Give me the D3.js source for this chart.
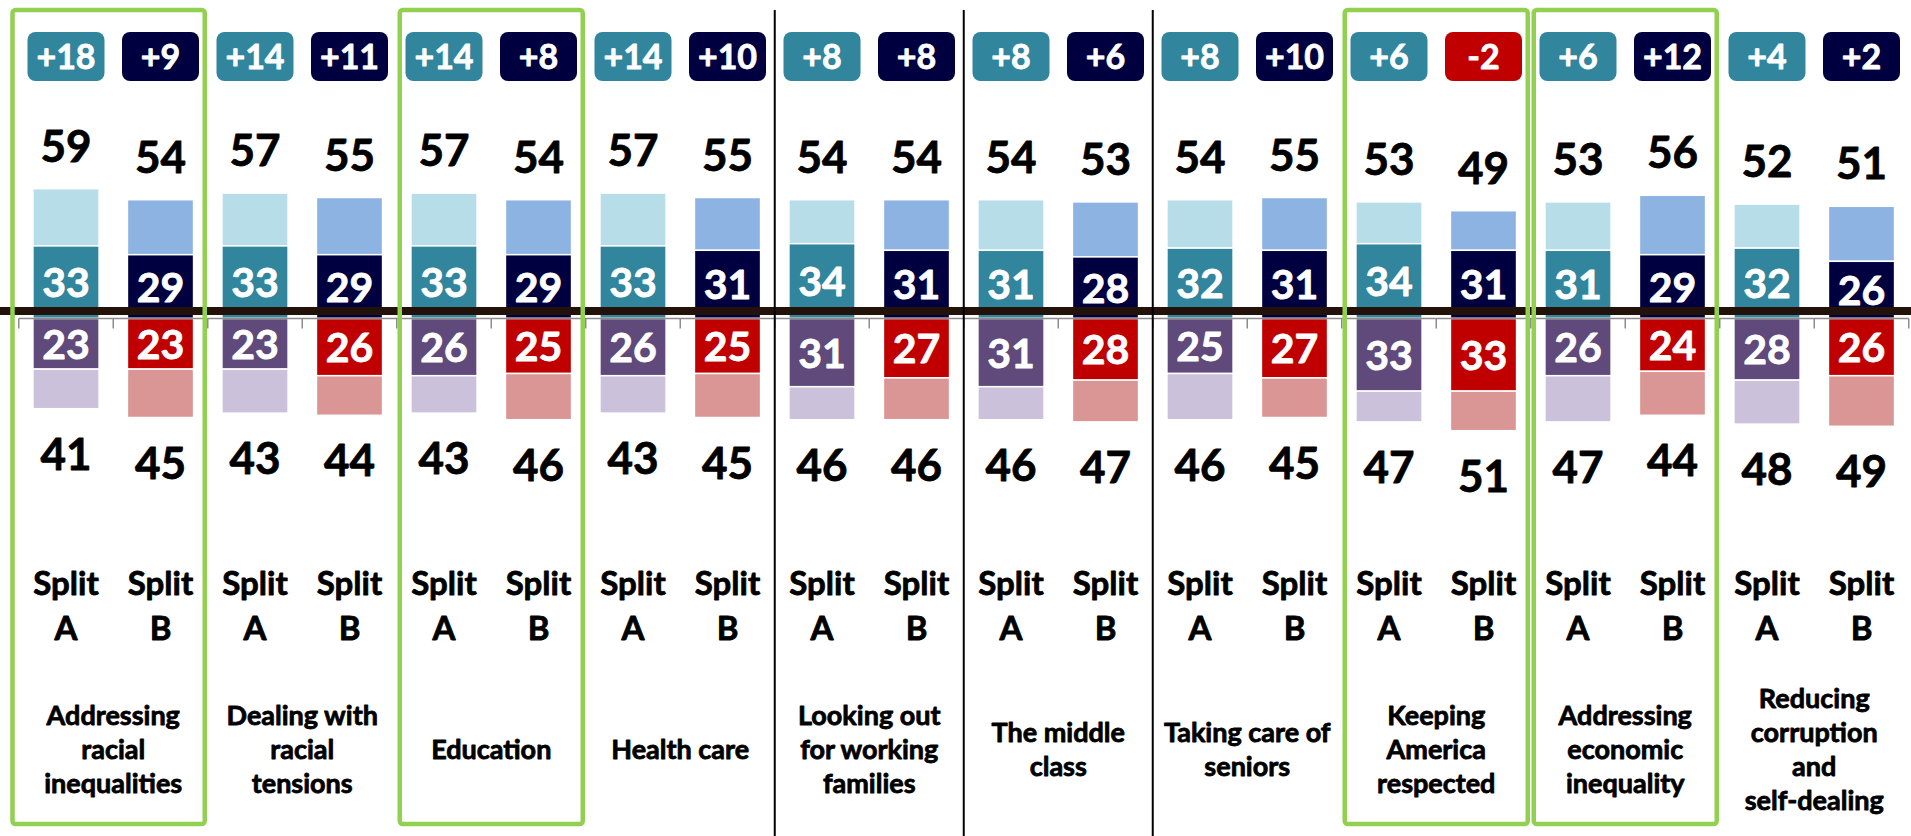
<!DOCTYPE html>
<html><head><meta charset="utf-8">
<script src="https://cdn.jsdelivr.net/npm/d3@7"></script>
<style>html,body{margin:0;padding:0;background:#fff;overflow:hidden}text{font-family:Lato,"Open Sans",sans-serif;font-weight:bold;paint-order:stroke}</style>
</head><body><svg id="chart" width="1911" height="836"></svg>
<script>
// ---- data ----
const categories = [
  ["Addressing","racial","inequalities"],
  ["Dealing with","racial","tensions"],
  ["Education"],
  ["Health care"],
  ["Looking out","for working","families"],
  ["The middle","class"],
  ["Taking care of","seniors"],
  ["Keeping","America","respected"],
  ["Addressing","economic","inequality"],
  ["Reducing","corruption","and","self-dealing"]
];
const splits = ["A","B"];
const aPosTotal = [59,57,57,57,54,54,54,53,53,52];
const aPosCore  = [33,33,33,33,34,31,32,34,31,32];
const aNegCore  = [23,23,26,26,31,31,25,33,26,28];
const aNegTotal = [41,43,43,43,46,46,46,47,47,48];
const bPosTotal = [54,55,54,55,54,53,55,49,56,51];
const bPosCore  = [29,29,29,31,31,28,31,31,29,26];
const bNegCore  = [23,26,25,25,27,28,27,33,24,26];
const bNegTotal = [45,44,46,45,46,47,45,51,44,49];
const netA = [18,14,14,14,8,8,8,6,6,4];
const netB = [9,11,8,10,8,6,10,-2,12,2];
const highlighted = [0,2,7,8];
const dividersAfter = [3,4,5];

// ---- colors ----
const C = {
  A:{posCore:"#31859c",posLight:"#b7dde8",negCore:"#604a7b",negLight:"#ccc1da",badge:"#31859c"},
  B:{posCore:"#000040",posLight:"#8db3e2",negCore:"#c00000",negLight:"#d99694",badge:"#000040"}
};

const rows = [];
categories.forEach((c,i)=>{
  rows.push({cat:i,split:splits[0],key:i+"-A",posT:aPosTotal[i],posC:aPosCore[i],negC:aNegCore[i],negT:aNegTotal[i],net:netA[i]});
  rows.push({cat:i,split:splits[1],key:i+"-B",posT:bPosTotal[i],posC:bPosCore[i],negC:bNegCore[i],negT:bNegTotal[i],net:netB[i]});
});

const svg = d3.select("#chart");
const x = d3.scaleBand().domain(rows.map(d=>d.key)).range([18.75,1908.75]).paddingInner(0.3).paddingOuter(0.15);
const y = d3.scaleLinear().domain([-60,60]).range([318.5+132,318.5-132]);
const step = x.step(), bw = x.bandwidth();
const cx = k => x(k)+bw/2;
const slotL = k => x(k)-step*0.15;
const slotR = k => x(k)+bw+step*0.15;

function txt(sel, size, color){
  return sel.attr("text-anchor","middle").attr("font-size",size).attr("fill",color)
    .attr("stroke",color).attr("stroke-width",0.8).attr("stroke-linejoin","round");
}

// bars
const g = svg.append("g");
const segs = [];
rows.forEach(d=>{
  const col = C[d.split];
  segs.push({d, y0:d.posC, y1:d.posT, fill:col.posLight});
  segs.push({d, y0:0, y1:d.posC, fill:col.posCore});
  segs.push({d, y0:-d.negC, y1:0, fill:col.negCore});
  segs.push({d, y0:-d.negT, y1:-d.negC, fill:col.negLight});
});
g.selectAll("rect.seg").data(segs).join("rect").attr("class","seg")
  .attr("x",s=>x(s.d.key)).attr("width",bw)
  .attr("y",s=>y(s.y1)).attr("height",s=>y(s.y0)-y(s.y1))
  .attr("fill",s=>s.fill).attr("stroke","#fff").attr("stroke-width",1.5);

// inside labels
txt(g.selectAll("text.inPos").data(rows).join("text").attr("class","inPos")
  .attr("x",d=>cx(d.key)).attr("y",d=>(y(d.posC)+y(0))/2+15), 41, "#fff").text(d=>d.posC);
txt(g.selectAll("text.inNeg").data(rows).join("text").attr("class","inNeg")
  .attr("x",d=>cx(d.key)).attr("y",d=>(y(-d.negC)+y(0))/2+15), 41, "#fff").text(d=>d.negC);

// totals
txt(g.selectAll("text.tPos").data(rows).join("text").attr("class","tPos")
  .attr("x",d=>cx(d.key)).attr("y",d=>y(d.posT)-27), 44, "#000").text(d=>d.posT);
txt(g.selectAll("text.tNeg").data(rows).join("text").attr("class","tNeg")
  .attr("x",d=>cx(d.key)).attr("y",d=>y(-d.negT)+61), 44, "#000").text(d=>d.negT);

// badges
const bg = svg.append("g");
bg.selectAll("rect").data(rows).join("rect")
  .attr("x",d=>cx(d.key)-38.5).attr("width",77).attr("y",32).attr("height",49).attr("rx",8)
  .attr("fill",d=>d.net<0?"#c00000":C[d.split].badge);
txt(bg.selectAll("text").data(rows).join("text")
  .attr("x",d=>cx(d.key)).attr("y",68.5), 34, "#fff").text(d=>(d.net>0?"+":"")+d.net);

// gray axis with ticks at slot boundaries
const ax = svg.append("g").attr("stroke","#8c8c8c").attr("stroke-width",1.5);
ax.append("line").attr("x1",18.75).attr("x2",1908.75).attr("y1",y(0)).attr("y2",y(0));
const bounds = rows.map(d=>slotL(d.key)).concat([slotR(rows[rows.length-1].key)]);
ax.selectAll("line.t").data(bounds).join("line").attr("class","t")
  .attr("x1",b=>b).attr("x2",b=>b).attr("y1",y(0)).attr("y2",y(0)+10);

// thick dark line
svg.append("line").attr("x1",0).attr("x2",1911).attr("y1",311).attr("y2",311)
  .attr("stroke","#22120a").attr("stroke-width",8);

// split labels
const sl = svg.append("g");
txt(sl.selectAll("text.s1").data(rows).join("text").attr("class","s1").attr("x",d=>cx(d.key)).attr("y",595), 33, "#000").text("Split");
txt(sl.selectAll("text.s2").data(rows).join("text").attr("class","s2").attr("x",d=>cx(d.key)).attr("y",640), 33, "#000").text(d=>d.split);

// category labels
const catCenter = i => (cx(i+"-A")+cx(i+"-B"))/2;
const cl = svg.append("g");
categories.forEach((lines,i)=>{
  const n = lines.length;
  lines.forEach((t,k)=>{
    txt(cl.append("text").attr("x",catCenter(i)).attr("y",749+9.5+(k-(n-1)/2)*34), 27, "#000").text(t);
  });
});

// dividers
svg.selectAll("line.div").data(dividersAfter).join("line").attr("class","div")
  .attr("x1",i=>slotL((i+1)+"-A")).attr("x2",i=>slotL((i+1)+"-A"))
  .attr("y1",10).attr("y2",836).attr("stroke","#000").attr("stroke-width",2);

// highlight boxes
svg.selectAll("rect.hl").data(highlighted).join("rect").attr("class","hl")
  .attr("x",i=> i===0 ? 12.5 : slotL(i+"-A")+3)
  .attr("width",i=> slotR(i+"-B")-3-(i===0 ? 12.5 : slotL(i+"-A")+3))
  .attr("y",10).attr("height",814).attr("rx",3)
  .attr("fill","none").attr("stroke","#92d050").attr("stroke-width",4.5);
</script></body></html>
